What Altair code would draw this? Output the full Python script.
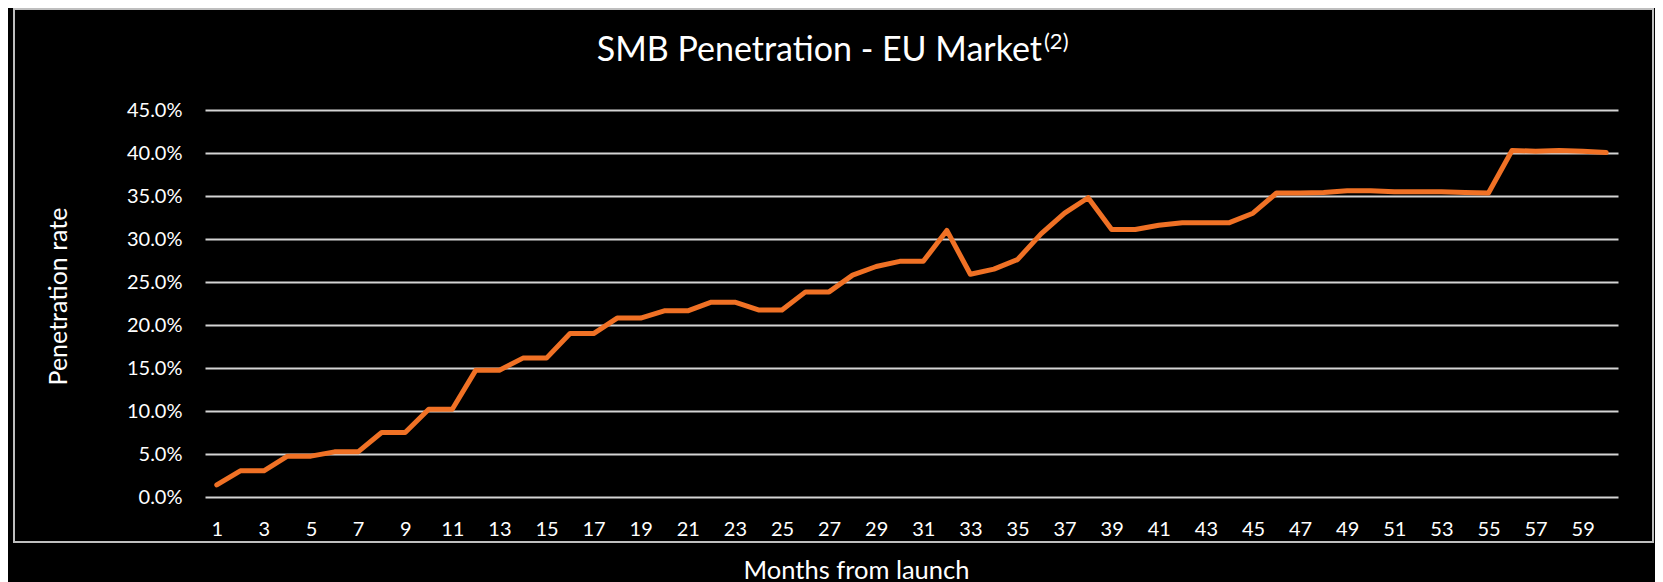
import altair as alt
import pandas as pd

# ---- data ----
months = list(range(1, 61))
rates_pct = [
    1.4, 3.05, 3.05, 4.75, 4.75, 5.25, 5.25, 7.5, 7.5, 10.2,
    10.2, 14.75, 14.75, 16.15, 16.15, 19.0, 19.0, 20.8, 20.8, 21.65,
    21.65, 22.65, 22.65, 21.75, 21.75, 23.85, 23.85, 25.8, 26.8, 27.4,
    27.4, 31.0, 25.9, 26.5, 27.6, 30.6, 33.0, 34.8, 31.1, 31.1,
    31.6, 31.9, 31.9, 31.9, 33.0, 35.35, 35.35, 35.4, 35.6, 35.6,
    35.5, 35.5, 35.5, 35.4, 35.35, 40.3, 40.2, 40.3, 40.2, 40.05,
]
x_tick_values = list(range(1, 60, 2))
y_tick_values = [0.0, 0.05, 0.10, 0.15, 0.20, 0.25, 0.30, 0.35, 0.40, 0.45]
title_main = "SMB Penetration - EU Market"
title_sup = "(2)"
x_title = "Months from launch"
y_title = "Penetration rate"

df = pd.DataFrame({"month": months, "rate": [r / 100 for r in rates_pct]})
one = pd.DataFrame({"k": [0]})

FONT = "Lato"
W, H = 1413, 387

line = alt.Chart(df).mark_line(
    color="#F07125", strokeWidth=5, strokeCap="round", strokeJoin="round"
).encode(
    x=alt.X(
        "month:O",
        scale=alt.Scale(type="point", padding=0.5),
        axis=alt.Axis(
            values=x_tick_values, labelAngle=0, domain=False, ticks=False, grid=False,
            labelPadding=22, labelFontSize=20, labelFont=FONT, labelColor="#FFFFFF",
            title=x_title, titleFont=FONT, titleFontSize=25.5, titleFontWeight="normal",
            titleColor="#FFFFFF", titleX=651, titleY=81, titleAlign="center",
            titleBaseline="alphabetic", titleAnchor="start",
        ),
    ),
    y=alt.Y(
        "rate:Q",
        scale=alt.Scale(domain=[0, 0.45], nice=False, zero=True),
        axis=alt.Axis(
            values=y_tick_values, format=".1%", grid=True, gridColor="#D4D4D4",
            gridWidth=1.8, domain=False, ticks=False, labelPadding=23,
            labelFontSize=20, labelFont=FONT, labelColor="#FFFFFF",
            title=y_title, titleFont=FONT, titleFontSize=25, titleFontWeight="normal",
            titleColor="#FFFFFF", titleX=-147, titleY=186, titleAngle=270,
            titleAlign="center", titleBaseline="middle", titleAnchor="start",
        ),
    ),
)

border = alt.Chart(one).mark_rect(
    fill="transparent", stroke="#BFBFBF", strokeWidth=2
).encode(
    x=alt.value(-191), x2=alt.value(1448), y=alt.value(-101), y2=alt.value(432)
)

title_a = alt.Chart(one).mark_text(
    text=title_main, align="right", baseline="alphabetic", fontSize=34,
    font=FONT, color="#FFFFFF"
).encode(x=alt.value(837), y=alt.value(-49))

title_b = alt.Chart(one).mark_text(
    text=title_sup, align="left", baseline="alphabetic", fontSize=22,
    font=FONT, color="#FFFFFF"
).encode(x=alt.value(839), y=alt.value(-61))

chart = alt.layer(border, line, title_a, title_b).properties(
    width=W, height=H,
    autosize=alt.AutoSizeParams(type="none"),
    padding={"left": 197, "top": 102, "right": 37, "bottom": 85},
    background="#000000",
).configure_view(stroke=None)

chart.save("out.html", embed_options={"renderer": "svg", "actions": False})
